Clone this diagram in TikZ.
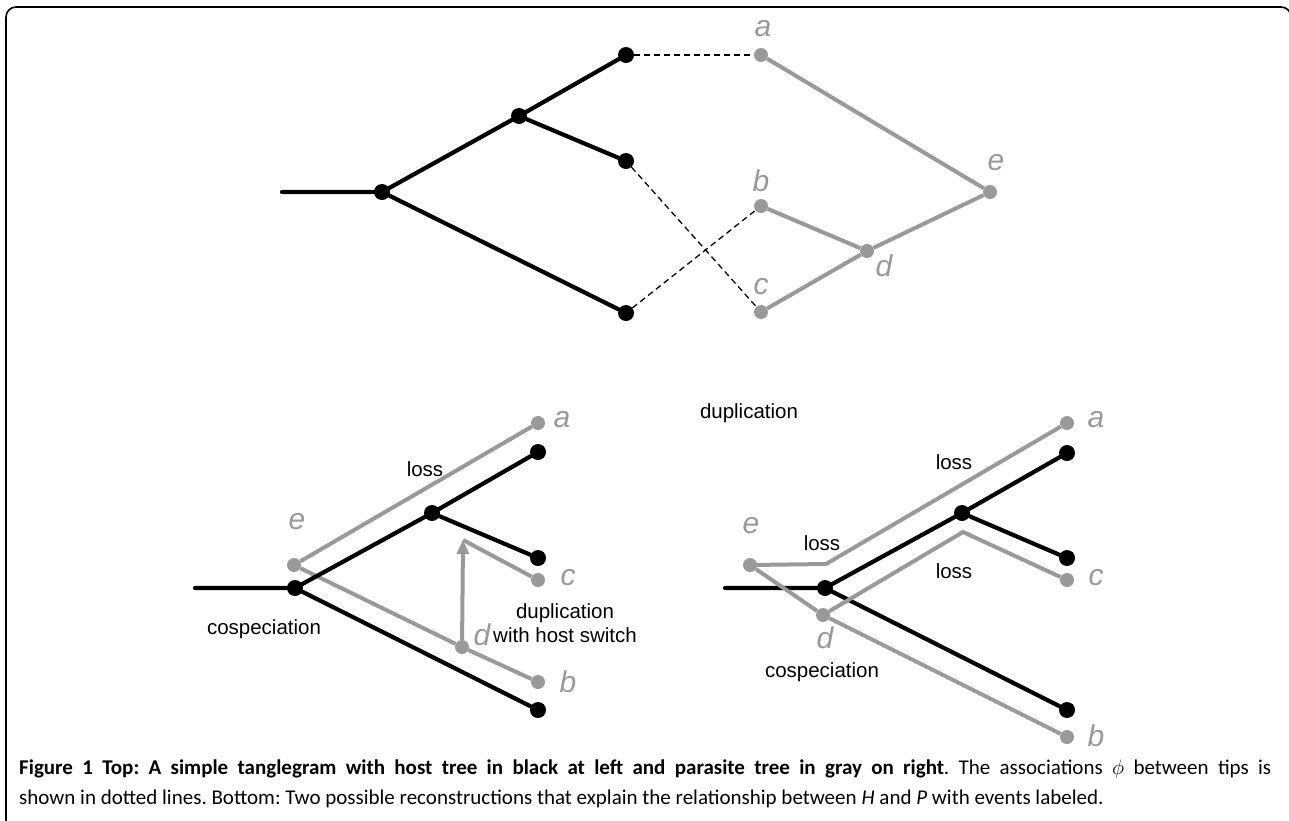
\documentclass[tikz,border=0pt]{standalone}
\usepackage{fontspec}
\setmainfont{Carlito}
\newfontfamily\treefont{Liberation Sans}
\usepackage{tikz}
\usetikzlibrary{arrows.meta}
\usetikzlibrary{positioning}
\definecolor{paragray}{RGB}{153,153,153}
\tikzstyle{host}=[draw=none,fill=black,circle,minimum size=16pt,inner sep=0pt]
\tikzstyle{para}=[draw=none,fill=paragray,circle,minimum size=14pt,inner sep=0pt]
\tikzstyle{hedge}=[line width=4.2pt,black,line cap=round]
\tikzstyle{pedge}=[line width=4pt,paragray]
\tikzstyle{assoc}=[line width=1.3pt,dash pattern=on 6pt off 4pt]
\tikzstyle{tip}=[text=paragray,font=\treefont\itshape\fontsize{30}{30}\selectfont,inner sep=0pt]
\tikzstyle{event}=[font=\treefont\fontsize{20.5}{24}\selectfont,inner sep=0pt,align=center]

\begin{document}
\begin{tikzpicture}[x=1pt,y=-1pt]
\useasboundingbox (0,0) rectangle (1289,820);
\draw[line width=1.6pt,rounded corners=10pt] (1291,20) -- (1291,7) -- (6,7) -- (6,822);

% top: tanglegram
\coordinate (s0) at (282,192);
\node [host] (h0) at (382,192) {};
\node [host] (h1) at (519,116) {};
\node [host] (h2) at (626,55) {};
\node [host] (h3) at (626,161) {};
\node [host] (h4) at (626,313) {};
\node [para] (pa) at (761,55) {};
\node [para] (pb) at (761,206) {};
\node [para] (pc) at (761,312) {};
\node [para] (pd) at (867,251) {};
\node [para] (pe) at (990,192) {};
\draw [hedge] (s0) -- (h0) -- (h1) -- (h2);
\draw [hedge] (h1) -- (h3);
\draw [hedge] (h0) -- (h4);
\draw [pedge] (pa) -- (pe) -- (pd) -- (pc);
\draw [pedge] (pd) -- (pb);
\draw [assoc] (h2) -- (pa);
\draw [assoc] (h3) -- (pc);
\draw [assoc] (h4) -- (pb);
\node [tip] at (763,29) {a};
\node [tip] at (761,181) {b};
\node [tip] at (761,287) {c};
\node [tip] at (884,266) {d};
\node [tip] at (996,163) {e};

% bottom left: duplication with host switch
\coordinate (ls) at (195,588);
\node [para] (le) at (294,565) {};
\node [para] (la) at (538,423) {};
\node [para] (lc) at (538,580) {};
\node [para] (lb) at (538,682) {};
\node [para] (ld) at (462,647) {};
\coordinate (lsw) at (463,540);
\draw [pedge] (le) -- (la);
\draw [pedge] (le) -- (ld) -- (lb);
\draw [pedge] (lsw) -- (lc);
\draw [pedge,-{Triangle[length=14pt,width=12pt]}] (ld) -- (lsw);
\node [host] (l0) at (295,588) {};
\node [host] (l1) at (432,513) {};
\node [host] (l2) at (538,452) {};
\node [host] (l3) at (538,558) {};
\node [host] (l4) at (538,710) {};
\draw [hedge] (ls) -- (l0) -- (l1) -- (l2);
\draw [hedge] (l1) -- (l3);
\draw [hedge] (l0) -- (l4);
\node [tip] at (562,420) {a};
\node [tip] at (568,578) {c};
\node [tip] at (568,682) {b};
\node [tip] at (482,635) {d};
\node [tip] at (297,522) {e};
\node [event] at (425,469) {loss};
\node [event] at (264,629) {cospeciation};
\node [event] at (565,623) {duplication\\with host switch};

% bottom right: duplication and losses
\coordinate (rs) at (725,588);
\node [para] (re) at (750,565) {};
\coordinate (rk1) at (826,564);
\node [para] (ra) at (1067,423) {};
\node [para] (rd) at (823,615) {};
\coordinate (rk2) at (963,532);
\node [para] (rc) at (1067,580) {};
\node [para] (rb) at (1067,737) {};
\node [host] (r0) at (825,588) {};
\node [host] (r1) at (962,513) {};
\node [host] (r2) at (1067,453) {};
\node [host] (r3) at (1067,558) {};
\node [host] (r4) at (1067,710) {};
\draw [hedge] (rs) -- (r0) -- (r1) -- (r2);
\draw [hedge] (r1) -- (r3);
\draw [hedge] (r0) -- (r4);
\draw [pedge] (re) -- (rk1) -- (ra);
\draw [pedge] (re) -- (rd) -- (rb);
\draw [pedge] (rd) -- (rk2) -- (rc);
\node [tip] at (1096,420) {a};
\node [tip] at (1096,578) {c};
\node [tip] at (1096,736) {b};
\node [tip] at (825,638) {d};
\node [tip] at (751,526) {e};
\node [event] at (954,462) {loss};
\node [event] at (822,543) {loss};
\node [event] at (954,571) {loss};
\node [event] at (749,413) {duplication};
\node [event] at (822,672) {cospeciation};

% caption
\node [anchor=north west,text width=1252pt,align=justify,inner sep=0pt,
       font=\fontsize{21}{30}\selectfont\frenchspacing] (cap) at (19,760)
  {\textbf{Figure 1 Top: A simple tanglegram with host tree in black at left and parasite tree in gray on right}. The associations $\phi$ between tips is\linebreak
   shown in dotted lines. Bottom: Two possible reconstructions that explain the relationship between \textit{H} and \textit{P} with events labeled.};
\end{tikzpicture}
\end{document}
